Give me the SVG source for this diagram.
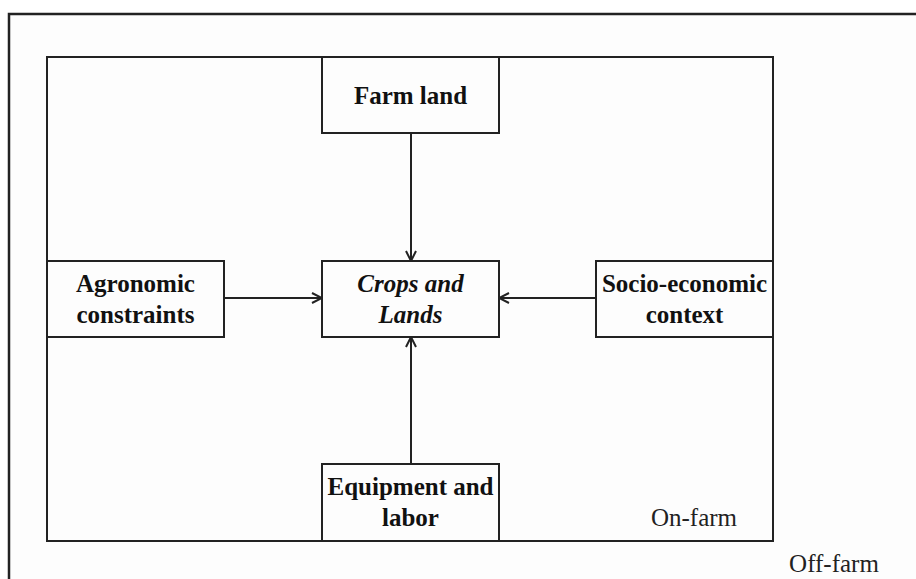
<svg xmlns="http://www.w3.org/2000/svg" width="916" height="579" viewBox="0 0 916 579">
<style>
.box{fill:#fdfdfd;stroke:#222;stroke-width:2}
.lbl{font-family:"Liberation Serif","Times New Roman",serif;font-size:25px;font-weight:bold;fill:#111;text-anchor:middle}
.it{font-style:italic}
.reg{font-family:"Liberation Serif","Times New Roman",serif;font-size:25px;fill:#222;text-anchor:middle}
.conn{stroke:#222;stroke-width:2;fill:none;marker-end:url(#ah)}
</style>
<defs>
<marker id="ah" viewBox="0 0 12 12" refX="11" refY="6" markerWidth="12" markerHeight="12" markerUnits="userSpaceOnUse" orient="auto">
<path d="M1,1 L11,6 L1,11" fill="none" stroke="#222" stroke-width="2"/>
</marker>
</defs>
<rect width="916" height="579" fill="#fff"/>
<g id="off-farm">
<rect x="9" y="14" width="920" height="580" fill="#fdfdfd" stroke="#222" stroke-width="2.5"/>
<text class="reg" x="834" y="572">Off-farm</text>
</g>
<g id="on-farm">
<rect class="box" x="47" y="57" width="726" height="484"/>
<text class="reg" x="694" y="526">On-farm</text>
</g>
<g id="connectors">
<line class="conn" x1="411" y1="133" x2="411" y2="261"/>
<line class="conn" x1="224" y1="298" x2="322" y2="298"/>
<line class="conn" x1="596" y1="298" x2="499" y2="298"/>
<line class="conn" x1="411" y1="464" x2="411" y2="337"/>
</g>
<g id="farm-land">
<rect class="box" x="322" y="57" width="177" height="76"/>
<text class="lbl" x="410.5" y="104">Farm land</text>
</g>
<g id="agronomic">
<rect class="box" x="47" y="261" width="177" height="76"/>
<text class="lbl" x="135.5" y="292">Agronomic</text>
<text class="lbl" x="135.5" y="323">constraints</text>
</g>
<g id="crops">
<rect class="box" x="322" y="261" width="177" height="76"/>
<text class="lbl it" x="410.5" y="292">Crops and</text>
<text class="lbl it" x="410.5" y="323">Lands</text>
</g>
<g id="socio">
<rect class="box" x="596" y="261" width="177" height="76"/>
<text class="lbl" x="684.5" y="292">Socio-economic</text>
<text class="lbl" x="684.5" y="323">context</text>
</g>
<g id="equipment">
<rect class="box" x="322" y="464" width="177" height="77"/>
<text class="lbl" x="410.5" y="495">Equipment and</text>
<text class="lbl" x="410.5" y="526">labor</text>
</g>
</svg>
